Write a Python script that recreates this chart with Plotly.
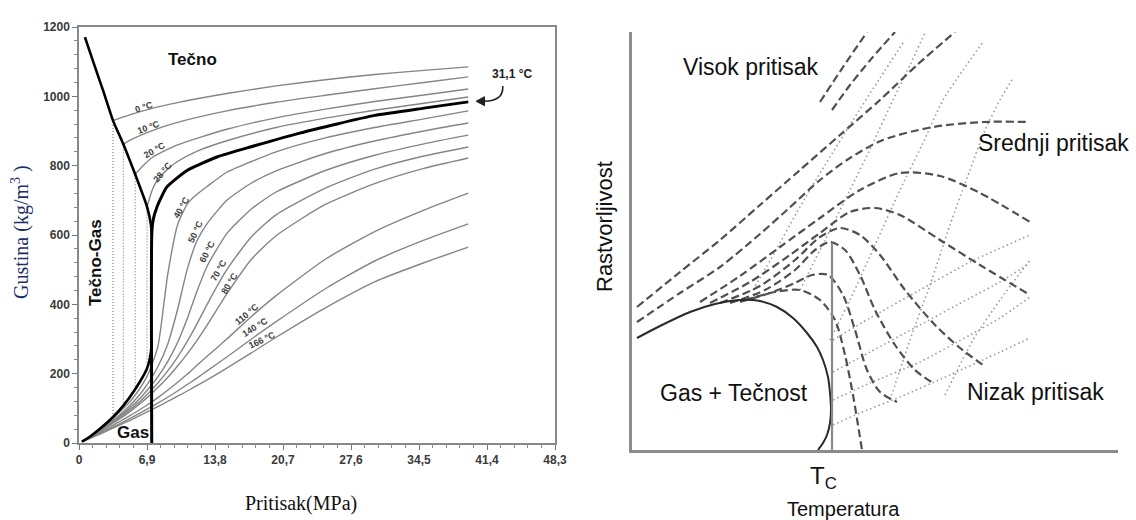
import plotly.graph_objects as go

# ---------------- Left panel: CO2 density vs pressure ----------------
# pressure grid (MPa) for supercritical isotherms
p_sc = [0.3, 1, 2, 3, 4, 5, 6, 7, 8, 9, 10, 11, 12, 13, 15, 17.5, 20, 25, 30, 35, 39.5]
rho_40 = [5, 18, 38, 60, 86, 114, 150, 198, 278, 486, 629, 690, 718, 740, 781, 812, 840, 880, 910, 935, 958]
rho_50 = [5, 17, 35, 56, 78, 104, 134, 172, 220, 285, 385, 503, 585, 633, 700, 750, 785, 835, 871, 900, 923]
rho_60 = [5, 17, 34, 53, 74, 97, 123, 155, 191, 235, 290, 360, 440, 510, 604, 675, 724, 786, 830, 863, 888]
rho_70 = [5, 16, 33, 51, 70, 92, 115, 143, 173, 208, 248, 294, 345, 400, 500, 595, 658, 735, 790, 828, 854]
rho_80 = [4.5, 15.5, 32, 49, 67, 87, 109, 133, 160, 189, 222, 258, 297, 340, 430, 530, 598, 688, 748, 792, 822]
rho_110 = [4, 14, 29, 44, 60, 76, 93, 111, 131, 152, 175, 199, 225, 250, 300, 365, 425, 530, 610, 672, 721]
rho_140 = [4, 13, 26, 40, 54, 68, 83, 99, 115, 132, 150, 169, 188, 208, 248, 300, 350, 445, 525, 585, 632]
rho_166 = [3.5, 12, 24, 37, 50, 63, 77, 91, 105, 120, 135, 150, 166, 182, 216, 260, 305, 390, 465, 520, 565]

# liquid isotherms (start on the saturated-liquid line)
p_0 = [3.45, 5, 7.5, 10, 15, 20, 25, 30, 35, 39.5]
rho_0 = [930, 945, 966, 982, 1008, 1030, 1048, 1063, 1075, 1085]
p_10 = [4.5, 5, 7.5, 10, 15, 20, 25, 30, 35, 39.5]
rho_10 = [862, 871, 902, 925, 958, 983, 1003, 1022, 1040, 1056]
p_20 = [5.7, 6.5, 7.5, 10, 15, 20, 25, 30, 35, 39.5]
rho_20 = [775, 800, 825, 860, 905, 938, 963, 985, 1004, 1021]
p_28 = [6.9, 7.5, 8, 9, 10, 12, 15, 20, 25, 30, 35, 39.5]
rho_28 = [682, 735, 760, 790, 812, 842, 872, 910, 937, 960, 980, 998]

# critical isotherm 31,1 °C
p_crit = [7.38, 7.38, 7.5, 7.9, 8.9, 11, 14, 17.4, 22.4, 30, 35, 39.5]
rho_crit = [0, 600, 640, 680, 738, 787, 825, 854, 894, 945, 966, 984]

# saturation curve
p_liq = [0.6, 1.5, 2.5, 3.45, 4.5, 5.7, 6.9, 7.3, 7.38]
rho_liq = [1171, 1095, 1012, 930, 862, 775, 682, 630, 600]
p_vap = [0.3, 1, 2, 3.45, 4.5, 5.7, 6.9, 7.3, 7.38]
rho_vap = [4, 16, 38, 75, 108, 155, 215, 262, 300]

# two-phase tie lines at 0, 10, 20, 28 °C
tie_p = [3.45, 4.5, 5.7, 6.9]
tie_liq = [930, 862, 775, 682]
tie_vap = [75, 108, 155, 215]

iso_labels = ["0 °C", "10 °C", "20 °C", "28 °C", "40 °C", "50 °C", "60 °C",
              "70 °C", "80 °C", "110 °C", "140 °C", "166 °C"]
label_p = [6.6, 7.1, 7.7, 8.5, 10.35, 11.8, 13.0, 14.2, 15.3, 17.05, 17.9, 18.6]
label_rho = [969, 911, 845, 782, 678, 609, 551, 499, 461, 372, 335, 297]
label_angle = [-18, -20, -30, -50, -60, -65, -62, -60, -58, -40, -32, -25]

x_tickvals = [0, 6.9, 13.8, 20.7, 27.6, 34.5, 41.4, 48.3]
x_ticktext = ["0", "6,9", "13,8", "20,7", "27,6", "34,5", "41,4", "48,3"]

# ---------------- Right panel: solubility vs temperature (schematic) ----------------
# phase boundary (Gas + Tečnost)
t_pb = [5, 28, 58, 83, 108, 128, 145, 161, 175, 185, 191, 196, 198, 199, 198, 195, 191, 186]
s_pb = [112, 124, 138, 146, 150, 149, 143, 132, 117, 103, 90, 73, 57, 40, 27, 15, 7, 0]
tc_t = [200, 200]
tc_s = [0, 207]

# isobars (dashed), from high to low pressure
isobar_t = [
    [188, 211, 235],
    [200, 218, 240, 263],
    [5, 48, 88, 128, 168, 208, 248, 285, 323],
    [5, 48, 88, 128, 155, 188, 218, 251, 301, 351, 398],
    [68, 108, 148, 188, 228, 268, 308, 348, 398],
    [78, 118, 158, 188, 218, 243, 268, 308, 348, 398],
    [88, 128, 163, 188, 208, 228, 248, 273, 303, 328, 351],
    [98, 133, 163, 183, 198, 213, 228, 243, 263, 283, 301],
    [108, 138, 163, 180, 196, 211, 223, 235, 248, 265],
    [113, 143, 168, 188, 203, 213, 221, 226, 230],
]
isobar_s = [
    [348, 383, 418],
    [340, 365, 392, 418],
    [143, 178, 210, 245, 280, 315, 350, 385, 418],
    [128, 157, 183, 216, 240, 270, 292, 310, 323, 328, 328],
    [148, 174, 203, 232, 260, 277, 274, 257, 228],
    [147, 168, 195, 217, 238, 242, 235, 210, 185, 155],
    [147, 164, 190, 213, 222, 215, 195, 160, 125, 102, 85],
    [147, 160, 180, 200, 208, 200, 175, 140, 105, 80, 67],
    [148, 157, 167, 175, 175, 155, 120, 80, 58, 48],
    [150, 158, 160, 150, 130, 95, 55, 25, 0],
]

# dotted guide curves: steep family, then shallow family
dot_t = [
    [121, 143, 165, 193, 221, 248, 273],
    [168, 193, 218, 240, 261, 278, 293],
    [198, 218, 243, 268, 290, 311, 331, 351],
    [258, 278, 298, 318, 338, 353, 368, 381],
    [313, 341, 368, 398],
    [201, 228, 268, 318, 368, 398],
    [201, 238, 288, 338, 368, 398],
    [201, 238, 288, 338, 368, 395],
    [201, 238, 288, 338, 398],
]
dot_s = [
    [160, 198, 238, 285, 330, 372, 410],
    [160, 210, 260, 305, 350, 385, 417],
    [110, 150, 205, 260, 305, 350, 380, 408],
    [50, 110, 165, 225, 280, 320, 350, 372],
    [55, 110, 150, 190],
    [25, 37, 53, 75, 98, 112],
    [50, 67, 88, 115, 132, 153],
    [78, 98, 125, 152, 168, 185],
    [110, 132, 160, 188, 215],
]

SANS = "Liberation Sans, Arial, sans-serif"
SERIF = "Liberation Serif, Times New Roman, serif"
GRAY = "#858585"

fig = go.Figure()

# isotherms
iso_sets = [(p_0, rho_0), (p_10, rho_10), (p_20, rho_20), (p_28, rho_28),
            (p_sc, rho_40), (p_sc, rho_50), (p_sc, rho_60), (p_sc, rho_70),
            (p_sc, rho_80), (p_sc, rho_110), (p_sc, rho_140), (p_sc, rho_166)]
for px_, py_ in iso_sets:
    fig.add_trace(go.Scatter(x=px_, y=py_, mode="lines", xaxis="x", yaxis="y",
                             line=dict(color=GRAY, width=1.4, shape="spline", smoothing=0.6),
                             hoverinfo="skip", showlegend=False))

# tie lines
for tp, tl, tv in zip(tie_p, tie_liq, tie_vap):
    fig.add_trace(go.Scatter(x=[tp, tp], y=[tv, tl], mode="lines", xaxis="x", yaxis="y",
                             line=dict(color="#666", width=1, dash="1px,2px"),
                             hoverinfo="skip", showlegend=False))

# saturation curve and critical isotherm
fig.add_trace(go.Scatter(x=p_liq, y=rho_liq, mode="lines", xaxis="x", yaxis="y",
                         line=dict(color="black", width=2.6, shape="spline", smoothing=0.5),
                         hoverinfo="skip", showlegend=False))
fig.add_trace(go.Scatter(x=p_vap, y=rho_vap, mode="lines", xaxis="x", yaxis="y",
                         line=dict(color="black", width=2.6, shape="spline", smoothing=0.5),
                         hoverinfo="skip", showlegend=False))
fig.add_trace(go.Scatter(x=p_crit, y=rho_crit, mode="lines", xaxis="x", yaxis="y",
                         line=dict(color="black", width=3, shape="spline", smoothing=0.5),
                         hoverinfo="skip", showlegend=False))

# right panel traces
for tt, ss in zip(dot_t, dot_s):
    fig.add_trace(go.Scatter(x=tt, y=ss, mode="lines", xaxis="x2", yaxis="y2",
                             line=dict(color="#9a9a9a", width=1.6, dash="1.5px,3px",
                                       shape="spline", smoothing=0.6),
                             hoverinfo="skip", showlegend=False))
for tt, ss in zip(isobar_t, isobar_s):
    fig.add_trace(go.Scatter(x=tt, y=ss, mode="lines", xaxis="x2", yaxis="y2",
                             line=dict(color="#505050", width=2.2, dash="8px,4px",
                                       shape="spline", smoothing=0.8),
                             hoverinfo="skip", showlegend=False))
fig.add_trace(go.Scatter(x=t_pb, y=s_pb, mode="lines", xaxis="x2", yaxis="y2",
                         line=dict(color="#2a2a2a", width=2, shape="spline", smoothing=0.8),
                         hoverinfo="skip", showlegend=False))
fig.add_trace(go.Scatter(x=tc_t, y=tc_s, mode="lines", xaxis="x2", yaxis="y2",
                         line=dict(color="#8a8a8a", width=2.2),
                         hoverinfo="skip", showlegend=False))

annotations = []
for txt, lp, lr, ang in zip(iso_labels, label_p, label_rho, label_angle):
    annotations.append(dict(x=lp, y=lr, xref="x", yref="y", text=txt, showarrow=False,
                            textangle=ang, xanchor="center", yanchor="middle",
                            font=dict(family=SANS, size=9, color="#3c3c3c", weight="bold")))

left_text = [("Tečno", 11.47, 1105, 0), ("Tečno-Gas", 1.62, 522, -90), ("Gas", 5.48, 29, 0)]
for txt, lx, ly, ang in left_text:
    annotations.append(dict(x=lx, y=ly, xref="x", yref="y", text=txt, showarrow=False,
                            textangle=ang, xanchor="center", yanchor="middle",
                            font=dict(family=SANS, size=17, color="#111", weight="bold")))

annotations.append(dict(x=43.9, y=1064, xref="x", yref="y", text="31,1 °C", showarrow=False,
                        xanchor="center", yanchor="middle",
                        font=dict(family=SANS, size=12, color="#222", weight="bold")))

# axis titles and free labels (paper coordinates, centred)
paper_text = [
    ("Gustina (kg/m<sup>3</sup> )", 21, 232, -90, SERIF, 20, "#1d2f66"),
    ("Pritisak(MPa)", 301, 503, 0, SERIF, 20, "#111"),
    ("Rastvorljivost", 604, 227, -90, SANS, 22, "#111"),
    ("T<sub>C</sub>", 823, 477, 0, SANS, 24, "#111"),
    ("Temperatura", 843, 509, 0, SANS, 20, "#111"),
]
for txt, xp, yp, ang, fam, sz, col in paper_text:
    annotations.append(dict(x=xp/1136, y=(520-yp)/520, xref="paper", yref="paper",
                            text=txt, showarrow=False, textangle=ang,
                            xanchor="center", yanchor="middle",
                            font=dict(family=fam, size=sz, color=col)))

right_text = [("Visok pritisak", 119, 383), ("Srednji pritisak", 421, 307),
              ("Gas + Tečnost", 102, 57), ("Nizak pritisak", 403, 58)]
for txt, tx, ty in right_text:
    annotations.append(dict(x=tx, y=ty, xref="x2", yref="y2", text=txt, showarrow=False,
                            xanchor="center", yanchor="middle",
                            font=dict(family=SANS, size=23, color="#111")))

# curved pointer from the "31,1 °C" label to the critical isotherm
shapes = [
    dict(type="path", xref="x", yref="y",
         path="M 43.0,1030 Q 43.1,986 41.1,986",
         line=dict(color="#222", width=1.6)),
    dict(type="path", xref="x", yref="y",
         path="M 40.3,986 L 41.15,999 L 41.15,973 Z",
         fillcolor="#222", line=dict(color="#222", width=1)),
]

tickfont = dict(family=SANS, size=12, color="#3a3a3a", weight="bold")
fig.update_layout(
    width=1136, height=520, margin=dict(l=0, r=0, t=0, b=0, autoexpand=False),
    paper_bgcolor="white", plot_bgcolor="white", showlegend=False,
    xaxis=dict(domain=[79/1136, 555/1136], range=[0, 48.3], tickmode="array",
               tickvals=x_tickvals, ticktext=x_ticktext, ticks="outside", ticklen=5,
               tickcolor="#777", showline=True, linecolor="#888", linewidth=1.5,
               mirror=True, showgrid=False, zeroline=False, tickfont=tickfont,
               automargin=False,
               minor=dict(dtick=1.38, tick0=0, ticks="outside", ticklen=3, tickcolor="#888")),
    yaxis=dict(domain=[77/520, 493/520], range=[0, 1200], tickmode="linear", dtick=200,
               tick0=0, ticks="outside", ticklen=5, tickcolor="#777", showline=True,
               linecolor="#888", linewidth=1.5, mirror=True, showgrid=False,
               zeroline=False, tickfont=tickfont, automargin=False,
               minor=dict(dtick=40, tick0=0, ticks="outside", ticklen=3, tickcolor="#888")),
    xaxis2=dict(domain=[632/1136, 1118/1136], range=[0, 486], anchor="y2",
                showline=True, linecolor="#8c8c8c", linewidth=2.5, showgrid=False,
                zeroline=False, showticklabels=False, ticks="", automargin=False),
    yaxis2=dict(domain=[70/520, 488/520], range=[0, 418], anchor="x2",
                showline=True, linecolor="#8c8c8c", linewidth=2.5, showgrid=False,
                zeroline=False, showticklabels=False, ticks="", automargin=False),
    annotations=annotations, shapes=shapes,
)

fig.write_html("out.html")
